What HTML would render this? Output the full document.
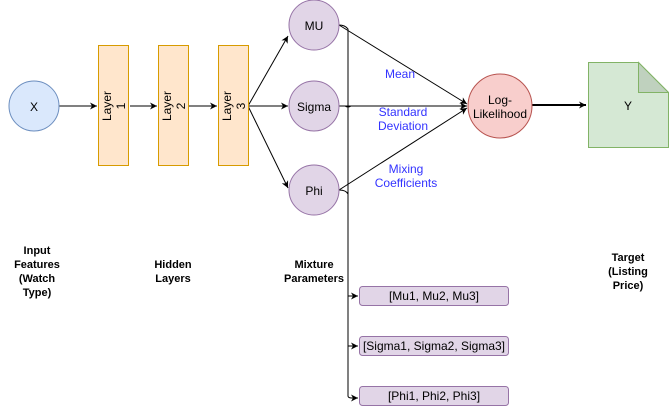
<!DOCTYPE html>
<html><head><meta charset="utf-8"><style>
html,body{margin:0;padding:0;background:#fff;width:669px;height:406px;overflow:hidden}
svg text{font-family:"Liberation Sans",Arial,sans-serif}
</style></head><body>
<svg width="669" height="406" viewBox="0 0 669 406" xmlns="http://www.w3.org/2000/svg">
<defs>
<marker id="a" markerWidth="8" markerHeight="8" refX="7" refY="4" orient="auto" markerUnits="userSpaceOnUse">
<path d="M0,0.5 L7,4 L0,7.5 L2,4 Z" fill="#000"/></marker>
</defs>
<g stroke="#000" stroke-width="1" fill="none">
<line x1="59" y1="106" x2="97" y2="106" marker-end="url(#a)"/>
<line x1="130" y1="106" x2="157" y2="106" marker-end="url(#a)"/>
<line x1="188" y1="106" x2="217" y2="106" marker-end="url(#a)"/>
<line x1="248" y1="106" x2="288" y2="36" marker-end="url(#a)"/>
<line x1="248" y1="106" x2="288" y2="106" marker-end="url(#a)"/>
<line x1="248" y1="106" x2="288" y2="188" marker-end="url(#a)"/>
<line x1="339" y1="25" x2="467" y2="104" marker-end="url(#a)"/>
<line x1="339" y1="106" x2="467" y2="106" marker-end="url(#a)"/>
<line x1="339" y1="190" x2="467" y2="108" marker-end="url(#a)"/>
<line x1="532" y1="105" x2="586" y2="105" stroke-width="2" marker-end="url(#a)"/>
<path d="M339,25 Q345,25 348,29 L348,396 Q348,398 352,398 L358,398" marker-end="url(#a)"/>
<path d="M348,296 L358,296" marker-end="url(#a)"/>
<path d="M348,346 L358,346" marker-end="url(#a)"/>
<path d="M339,190 Q346,190 348,194"/>
<path d="M345,106 Q348,108 351,106"/>
</g>
<circle cx="34" cy="106" r="25" fill="#dae8fc" stroke="#6c8ebf"/>
<text x="34" y="111" font-size="12" text-anchor="middle">X</text>
<g fill="#ffe6cc" stroke="#d79b00">
<rect x="98.5" y="45.5" width="30" height="120"/>
<rect x="158.5" y="45.5" width="30" height="120"/>
<rect x="218.5" y="45.5" width="30" height="120"/>
</g>
<g font-size="12" text-anchor="middle">
<text transform="translate(113,106) rotate(-90)"><tspan x="0" y="-2">Layer</tspan><tspan x="0" y="12">1</tspan></text>
<text transform="translate(173,106) rotate(-90)"><tspan x="0" y="-2">Layer</tspan><tspan x="0" y="12">2</tspan></text>
<text transform="translate(233,106) rotate(-90)"><tspan x="0" y="-2">Layer</tspan><tspan x="0" y="12">3</tspan></text>
</g>
<g fill="#e1d5e7" stroke="#9673a6">
<circle cx="314" cy="25" r="25"/><circle cx="314" cy="106" r="25"/><circle cx="314" cy="190" r="25"/>
</g>
<g font-size="12" text-anchor="middle">
<text x="314" y="30">MU</text><text x="314" y="111">Sigma</text><text x="314" y="195">Phi</text>
</g>
<circle cx="500" cy="106" r="32" fill="#f8cecc" stroke="#b85450"/>
<text font-size="12" text-anchor="middle"><tspan x="500" y="104">Log-</tspan><tspan x="500" y="118">Likelihood</tspan></text>
<path d="M588.5,62.5 L638.5,62.5 L668.5,92.5 L668.5,147.5 L588.5,147.5 Z" fill="#d5e8d4" stroke="#82b366"/>
<path d="M638.5,62.5 L638.5,92.5 L668.5,92.5 Z" fill="#bfd1be" stroke="#82b366"/>
<text x="628" y="110" font-size="12" text-anchor="middle">Y</text>
<g font-size="12" text-anchor="middle" fill="#3333ff">
<text x="400" y="78">Mean</text>
<text x="403" y="116">Standard</text><text x="403" y="130">Deviation</text>
<text x="406" y="173">Mixing</text><text x="406" y="187">Coefficients</text>
</g>
<g fill="#e1d5e7" stroke="#9673a6">
<rect x="359.5" y="286.5" width="149" height="19" rx="3"/>
<rect x="359.5" y="336.5" width="149" height="19" rx="3"/>
<rect x="359.5" y="386.5" width="149" height="19" rx="3"/>
</g>
<g font-size="12" text-anchor="middle">
<text x="434" y="300">[Mu1, Mu2, Mu3]</text>
<text x="434" y="350">[Sigma1, Sigma2, Sigma3]</text>
<text x="434" y="400">[Phi1, Phi2, Phi3]</text>
</g>
<g font-size="11" font-weight="bold" text-anchor="middle">
<text x="37" y="254">Input</text><text x="37" y="268">Features</text><text x="37" y="282">(Watch</text><text x="37" y="296">Type)</text>
<text x="173" y="268">Hidden</text><text x="173" y="282">Layers</text>
<text x="314" y="268">Mixture</text><text x="314" y="282">Parameters</text>
<text x="628" y="261">Target</text><text x="628" y="275">(Listing</text><text x="628" y="289">Price)</text>
</g>
</svg>
</body></html>
